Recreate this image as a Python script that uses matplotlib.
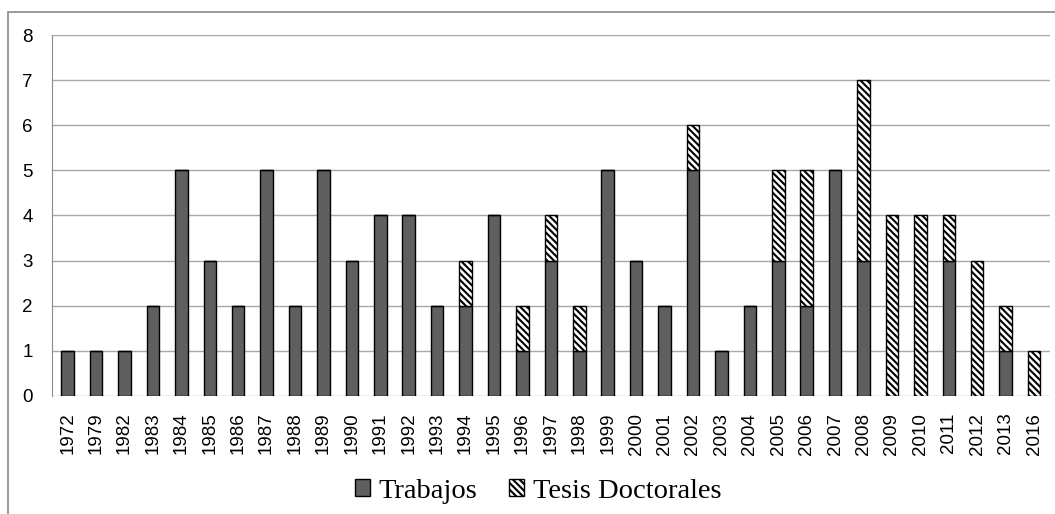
import matplotlib
matplotlib.use("Agg")
import matplotlib.pyplot as plt
from matplotlib.patches import Rectangle
import numpy as np

# ---------- DATA ----------
years = ["1972", "1979", "1982", "1983", "1984", "1985", "1986", "1987", "1988",
         "1989", "1990", "1991", "1992", "1993", "1994", "1995", "1996", "1997",
         "1998", "1999", "2000", "2001", "2002", "2003", "2004", "2005", "2006",
         "2007", "2008", "2009", "2010", "2011", "2012", "2013", "2016"]
trabajos = [1, 1, 1, 2, 5, 3, 2, 5, 2,
            5, 3, 4, 4, 2, 2, 4, 1, 3,
            1, 5, 3, 2, 5, 1, 2, 3, 2,
            5, 3, 0, 0, 3, 0, 1, 0]
tesis = [0, 0, 0, 0, 0, 0, 0, 0, 0,
         0, 0, 0, 0, 0, 1, 0, 1, 1,
         1, 0, 0, 0, 1, 0, 0, 2, 3,
         0, 4, 4, 4, 1, 3, 1, 1]

plt.rcParams["hatch.linewidth"] = 1.5

fig = plt.figure(figsize=(10.55, 5.14), dpi=100)
ax = fig.add_axes([0.0493, 0.2296, 0.9457, 0.7023])

# outer chart frame (only left and top edges visible)
fig.patches.append(Rectangle((8 / 1055, -0.1), 1.2, 1.1 - 12 / 514,
                             transform=fig.transFigure, fill=False,
                             edgecolor="#8a8a8a", linewidth=1.2))

x = np.arange(len(years))
ax.bar(x, trabajos, width=0.44, color="#5f5f5f", edgecolor="black",
       linewidth=1.0, label="Trabajos", zorder=3)
ax.bar(x, tesis, width=0.44, bottom=trabajos, color="white", edgecolor="black",
       hatch="\\" * 5, linewidth=1.0, label="Tesis Doctorales", zorder=3)

ax.set_xlim(-0.55, len(years) - 0.45)
ax.set_ylim(0, 8)
ax.set_yticks(range(0, 9))
ax.yaxis.grid(True, color="#a8a8a8", linewidth=1.0, zorder=0)
ax.set_xticks(x)
ax.set_xticklabels(years, rotation=90, fontsize=13.5, family="Liberation Sans")
for lab in ax.get_yticklabels():
    lab.set_family("Liberation Sans")
ax.tick_params(axis="y", labelsize=13.5, length=0, pad=14)
ax.tick_params(axis="x", length=0, pad=12)

for s in ["top", "right", "bottom"]:
    ax.spines[s].set_visible(False)
ax.spines["left"].set_color("#8a8a8a")

leg = fig.legend(loc="lower center", bbox_to_anchor=(0.51, -0.03), ncol=2,
                 frameon=False, prop={"family": "Liberation Serif", "size": 20.5},
                 handlelength=0.55, handleheight=0.55, handletextpad=0.3,
                 columnspacing=1.1)

fig.savefig("out.png", dpi=100)
